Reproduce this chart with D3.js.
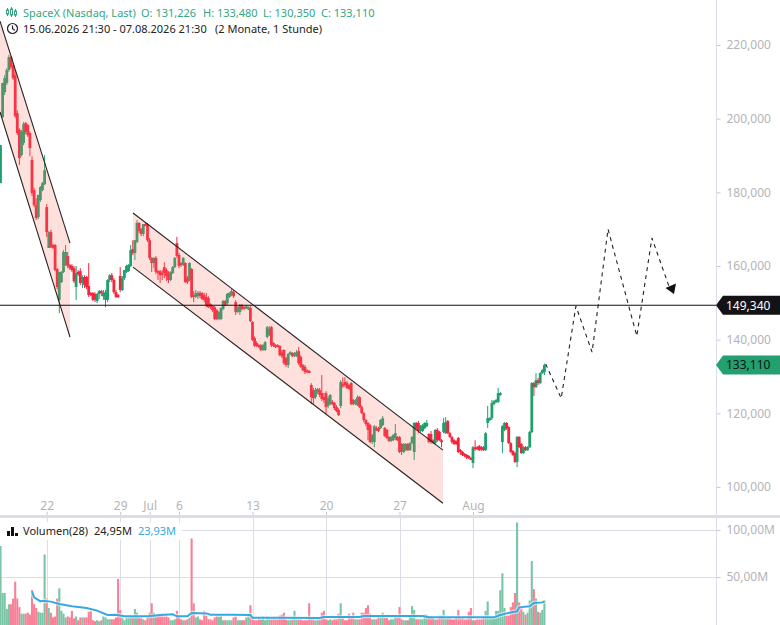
<!DOCTYPE html>
<html>
<head>
<meta charset="utf-8">
<script src="https://cdn.jsdelivr.net/npm/d3@7"></script>
<style>
html, body { margin: 0; padding: 0; background: #fff; overflow: hidden; }
text { font-family: "Noto Sans", sans-serif; }
</style>
</head>
<body>
<div id="chart"></div>
<script>
// hourly bars, prices in thousands
const opens = [
182.5,200.4,207.2,209.7,213.2,216.7,214.5,211.8,201.5,196.9,190.1,193.4,198.8,198.3,196.1,188.8,180.6,176.5,173.3,177.9,
180.6,182.2,176.0,164.9,169.2,165.7,165.7,159.2,150.8,155.6,158.4,160.3,162.7,160.3,160.0,159.4,154.3,158.4,158.6,155.4,
157.0,157.0,154.6,152.7,152.7,152.4,150.5,152.4,153.2,151.8,150.8,150.8,156.2,157.5,156.2,152.9,152.1,157.3,153.5,156.7,
158.4,158.6,160.0,164.6,163.5,166.5,171.7,170.0,168.7,171.4,171.4,167.0,162.2,160.8,162.2,158.6,158.6,158.1,159.7,158.9,
158.1,156.2,158.1,159.7,166.2,163.0,160.8,160.3,160.8,156.7,156.2,159.2,152.1,151.6,151.8,152.7,152.7,152.1,151.6,151.3,
149.7,149.1,148.8,148.0,145.6,145.6,148.3,150.5,149.9,151.6,152.1,152.9,150.2,147.5,147.5,149.4,148.8,148.6,148.3,148.6,
144.8,140.4,139.1,138.5,138.5,137.2,137.2,140.7,141.2,143.4,139.1,138.5,138.5,138.3,136.6,137.2,135.0,133.1,136.1,136.4,
135.5,135.5,136.9,135.3,133.1,132.6,131.7,131.5,127.7,126.3,124.4,125.8,126.3,125.5,124.4,125.5,122.0,122.5,123.1,122.8,
121.7,120.9,122.0,127.9,128.5,128.2,127.7,128.2,123.6,122.5,122.2,124.4,121.7,120.1,118.2,117.4,116.8,112.2,112.2,116.0,
116.0,116.0,116.8,116.0,115.5,113.6,112.5,112.7,113.3,113.6,113.6,111.7,109.5,110.0,111.7,110.0,111.9,109.5,117.4,117.4,
115.2,115.2,116.0,116.5,114.4,114.4,112.7,111.9,115.5,115.0,112.7,114.9,114.6,117.9,114.6,113.6,112.7,112.5,113.3,110.0,
109.5,109.0,108.7,108.4,107.9,106.5,110.8,110.8,111.1,110.8,110.8,110.0,117.4,118.2,118.7,122.5,123.1,123.1,125.0,112.2,
115.5,117.4,116.3,111.9,109.8,109.2,106.8,113.6,111.7,109.2,110.8,110.0,110.8,114.9,128.2,127.1,129.0,128.2,130.9,131.2];
const closes = [
192.8,209.7,211.0,213.2,216.7,214.0,211.0,200.7,196.1,189.3,196.4,198.5,196.4,195.5,192.0,179.8,176.5,173.0,179.3,181.4,
182.5,186.0,169.2,169.2,165.1,164.9,158.9,154.3,158.4,158.4,163.8,163.8,160.0,159.4,158.9,155.9,158.1,157.8,155.4,157.0,
154.8,154.3,152.1,152.1,150.8,150.8,152.4,153.2,152.7,152.7,152.9,156.2,157.5,156.2,152.9,151.6,151.6,153.5,156.7,158.9,
160.0,160.3,164.3,163.5,167.0,171.7,169.5,168.7,171.4,171.1,167.0,162.2,160.8,162.2,158.4,158.1,157.5,157.5,158.1,157.3,
156.2,158.4,159.7,162.2,162.7,160.0,160.3,162.2,155.6,155.6,160.8,151.6,151.6,152.7,152.7,151.8,151.0,150.8,149.4,148.8,
148.8,148.0,145.6,145.6,147.5,148.6,150.5,149.4,152.4,152.7,153.2,151.8,147.5,148.8,149.4,148.3,148.6,149.1,148.8,145.0,
139.9,138.3,138.3,138.0,137.2,138.5,139.3,143.4,142.9,138.5,138.3,138.0,138.3,135.8,135.5,133.6,133.1,136.1,136.6,135.5,
136.4,136.6,133.6,132.6,131.7,131.2,131.2,131.2,124.4,124.1,126.3,126.6,125.0,123.9,123.6,121.7,124.1,125.0,122.5,121.4,
120.6,119.5,128.5,127.4,127.7,126.9,126.6,122.5,122.5,123.6,124.4,121.7,120.1,118.2,117.1,115.5,112.2,114.1,116.5,115.5,
115.2,118.2,118.7,113.8,113.3,112.5,113.6,114.1,114.6,112.7,109.5,109.7,111.7,111.7,110.0,111.9,113.6,117.4,116.0,115.2,
116.5,116.8,117.4,117.4,112.2,112.2,111.9,115.5,112.7,112.7,112.5,117.4,117.6,114.6,113.6,112.2,111.7,111.7,109.5,109.5,
108.7,108.4,107.9,107.9,107.6,110.8,110.6,110.3,110.0,110.3,110.0,114.6,118.7,118.7,122.8,123.3,123.6,125.5,125.5,116.5,
117.4,116.0,111.9,109.5,108.7,106.8,113.6,110.8,109.2,110.8,110.0,110.8,114.9,128.2,127.1,129.0,128.2,130.9,131.7,133.1];
const highs = [
192.8,209.7,211.8,213.7,217.3,217.0,215.1,213.2,202.3,197.4,196.9,199.1,199.1,198.5,196.6,189.8,181.2,178.4,179.3,181.7,
182.8,190.1,176.8,169.5,169.8,166.0,166.0,159.4,158.4,158.6,164.3,165.7,163.8,160.5,160.5,160.0,160.0,158.9,159.4,157.5,
157.5,157.3,160.8,152.9,152.9,152.9,152.7,153.5,153.5,153.5,153.5,156.4,157.8,158.1,156.7,153.5,152.4,159.7,157.3,158.9,
160.3,160.5,165.7,167.0,167.0,172.5,171.9,170.3,171.4,171.7,171.7,167.6,162.4,162.4,162.7,158.9,158.9,158.9,161.0,159.4,
158.6,158.6,160.0,162.4,167.9,163.5,161.0,162.4,161.0,157.3,161.0,159.4,153.2,153.5,153.2,153.2,152.9,152.7,152.7,151.8,
149.9,149.4,149.1,148.3,147.8,148.8,150.8,150.8,152.7,152.9,153.7,153.5,150.8,149.1,149.7,149.7,149.1,149.4,149.1,149.1,
145.0,140.9,139.6,138.8,138.8,138.8,139.6,143.7,143.7,143.7,139.3,138.8,138.8,138.5,137.2,137.4,135.3,136.4,136.9,136.6,
136.6,137.2,138.0,135.8,133.4,133.1,132.0,131.7,128.2,126.9,126.9,126.9,126.9,130.4,125.5,126.0,124.7,125.2,123.6,123.1,
122.2,121.4,129.0,129.8,129.8,128.8,127.9,128.5,123.9,123.9,124.9,124.7,122.2,120.3,118.4,117.6,117.1,114.4,116.8,116.5,
116.3,118.4,119.3,116.3,115.7,113.8,113.8,114.4,117.1,113.8,113.8,111.9,111.9,111.9,111.9,112.2,113.8,117.6,117.6,117.9,
116.8,117.1,117.6,118.2,114.6,115.2,113.0,115.7,116.0,115.2,113.0,118.7,119.0,118.2,114.9,113.8,113.0,112.7,113.6,110.3,
109.8,109.2,109.0,108.7,108.1,111.1,112.7,111.1,111.4,111.1,111.1,114.9,122.0,119.0,123.6,123.6,123.9,126.9,125.8,116.8,
117.6,117.6,116.5,112.2,110.0,109.5,113.8,113.8,111.9,111.1,111.1,111.1,115.2,128.5,128.5,130.9,129.6,131.2,132.0,133.5];
const lows = [
182.5,200.2,206.4,209.1,212.7,213.5,210.5,200.2,195.5,187.4,189.8,192.8,195.8,195.0,189.8,179.0,176.0,172.5,172.7,177.4,
180.3,182.0,167.9,164.9,164.9,164.6,158.6,153.7,147.2,155.4,158.1,160.0,159.4,158.9,158.4,155.4,150.8,157.3,154.8,154.0,
154.0,153.7,151.6,151.8,150.5,150.2,149.9,151.0,151.8,150.8,148.8,150.2,155.6,155.6,152.4,151.3,151.3,152.9,153.2,156.2,
158.1,158.4,159.7,163.0,161.6,166.2,168.9,168.1,168.1,170.8,166.5,161.6,158.4,159.4,157.8,156.2,155.4,156.2,156.7,155.9,
155.4,155.9,157.8,159.4,162.2,159.4,159.7,160.0,155.4,155.1,155.9,151.3,150.2,151.3,151.0,151.3,150.8,150.2,148.8,148.6,
148.3,147.5,145.3,145.3,145.3,145.3,148.0,149.1,149.4,151.3,151.8,151.3,146.7,147.2,146.7,148.0,148.3,148.3,148.0,144.8,
139.6,138.0,138.0,137.7,136.9,136.9,136.9,140.4,141.0,138.0,138.0,137.7,138.0,135.5,135.0,133.1,132.6,132.3,135.8,135.3,
135.3,135.3,133.1,132.3,131.5,130.7,130.9,130.9,122.5,122.5,123.9,125.2,124.4,123.3,122.8,119.8,121.4,122.2,122.2,120.9,
120.3,119.3,121.4,126.9,127.1,126.6,126.3,122.2,122.2,122.2,122.0,121.4,119.8,117.6,116.5,112.7,111.9,111.7,110.8,115.2,
114.9,115.7,116.5,113.6,113.0,112.2,112.2,112.5,112.7,112.5,109.2,108.7,109.2,109.8,109.8,109.8,111.7,107.3,115.7,114.6,
114.9,114.9,115.7,116.3,111.9,111.7,111.7,111.4,112.2,112.5,110.8,114.6,114.4,114.4,113.3,111.7,111.4,111.4,109.2,108.7,
108.4,108.1,107.6,107.6,107.3,105.1,109.8,110.0,109.8,109.8,109.8,109.8,116.0,117.9,118.2,122.2,122.8,122.8,124.7,109.2,
115.2,115.5,111.7,109.2,108.4,106.5,105.4,110.6,109.0,109.0,109.8,109.8,110.6,114.6,124.7,126.9,127.7,127.9,130.7,130.4];
// volume per bar, millions
const volumes = [
83,33,33,16,21,21,27,45,27,18,11,11,11,12,10,36,21,17,13,12,
12,74,27,17,12,7,8,27,38,14,11,7,8,7,14,6,8,4,7,7,
7,7,13,14,4,3,4,3,4,8,7,5,5,5,5,7,48,15,7,4,
7,7,9,8,16,12,7,7,5,4,7,12,22,12,8,9,9,11,8,10,
7,4,4,5,14,9,5,4,4,5,7,91,22,7,8,5,4,14,9,5,
5,4,7,9,8,9,4,4,4,4,4,7,8,4,4,4,4,7,9,20,
7,4,4,6,5,8,4,8,6,5,7,5,6,9,10,12,5,4,4,5,
14,5,5,5,4,4,4,22,7,7,4,5,5,12,14,5,4,5,4,5,
5,11,22,8,4,4,11,8,12,5,5,5,12,12,17,20,11,5,5,5,
8,8,12,7,7,4,5,5,8,8,18,5,4,4,4,8,19,15,5,5,
5,5,10,10,8,8,7,5,5,9,9,15,6,6,6,5,5,7,15,7,
7,5,5,13,17,4,4,5,5,5,7,14,24,7,7,7,14,14,36,54,
17,9,9,18,23,33,108,23,18,13,10,12,25,67,37,27,13,12,15,25];
// 28 bar volume average, read at its visible bends
const avgBars = [15,16,19,20,24,28,34,41,46,51,55,59,70,76,82,84,89,91,98,100,111,119,120,133,152,154,171,173,201,204,235,238,241,246,247,252,254,258,259];
const avgVolume = [34.8,28.4,24.1,24.8,23.8,21.3,18.8,17,14.2,9.6,9.9,8.2,8.2,9.6,10.3,8.2,8.2,11.7,11.3,9.9,9.9,9.6,6.7,6.7,6.4,7.4,7.4,8.5,8.5,7.1,7.1,9.6,11.3,13.5,17.7,18.8,22.3,23,23.9];

const tickBars = [22,57,71,85,120,155,190,225];
const tickLabels = ["22","29","Jul","6","13","20","27","Aug"];
const priceTicks = [100,120,140,160,180,200,220];
const volumeTicks = [50,100];

// drawn channels and forecast path
const channelOneBars = [-0.24,33.1];
const channelOneUpper = [226.5,166.2];
const channelOneLower = [201.8,140.7];
const channelTwoBars = [63.1,210.7];
const channelTwoUpper = [174.4,110.0];
const channelTwoLower = [159.7,95.6];
const pathBars = [259.6,267,274,281.7,289.3,303,310.2,318.5];
const pathPrices = [133.4,124.1,149.1,136.6,170,141,167.6,154.2];
const arrowBars = [320.7];
const arrowPrices = [152.4];
const levelPrice = 149.34;
const lastPrice = 133.11;

const W = 780, H = 625;
const AXIS_X = 716;
const UP = "#1f9e6e", DOWN = "#f5233c";
const UP_VOL = "#7cc4a6", DOWN_VOL = "#f98097";
const GRID = "#dcdde6", LABEL = "#b4b4b8";

const x = d3.scaleLinear().domain([0,1]).range([0.5,2.6]);
const y = d3.scaleLinear().domain([100,220]).range([487,45]);
const yVol = d3.scaleLinear().domain([0,100]).range([624,530]);

const svg = d3.select("#chart").append("svg")
	.attr("width", W)
	.attr("height", H)
	.style("display", "block");

svg.append("defs").append("clipPath").attr("id", "plot")
	.append("rect").attr("width", AXIS_X).attr("height", 516);

// volume pane grid
const grid = svg.append("g");
grid.selectAll("line.v").data(tickBars).enter().append("line")
	.attr("x1", d => Math.round(x(d)) + 0.5)
	.attr("x2", d => Math.round(x(d)) + 0.5)
	.attr("y1", 518).attr("y2", H)
	.attr("stroke", GRID).attr("stroke-width", 1);
grid.selectAll("line.h").data(volumeTicks).enter().append("line")
	.attr("x1", 0).attr("x2", AXIS_X)
	.attr("y1", d => yVol(d) + 0.5)
	.attr("y2", d => yVol(d) + 0.5)
	.attr("stroke", GRID).attr("stroke-width", 1);

// volume
svg.append("g").selectAll("rect").data(volumes).enter().append("rect")
	.attr("x", (d, i) => x(i) - 1.05)
	.attr("width", 2.1)
	.attr("y", d => yVol(d))
	.attr("height", d => H - yVol(d))
	.attr("fill", (d, i) => closes[i] >= opens[i] ? UP_VOL : DOWN_VOL);

const avgLine = d3.line().x(d => x(d[0])).y(d => yVol(d[1]));
const avgPts = avgBars.map((b, i) => [b, avgVolume[i]]);
svg.append("path").attr("d", avgLine(avgPts)).attr("fill", "none")
	.attr("stroke", "#fff").attr("stroke-opacity", 0.55).attr("stroke-width", 4.5);
svg.append("path").attr("d", avgLine(avgPts)).attr("fill", "none")
	.attr("stroke", "#35a9e2").attr("stroke-width", 2);

// candles
const plot = svg.append("g").attr("clip-path", "url(#plot)");
const candles = plot.append("g").selectAll("g").data(opens).enter().append("g")
	.attr("fill", (d, i) => closes[i] >= d ? UP : DOWN)
	.attr("stroke", (d, i) => closes[i] >= d ? UP : DOWN);
candles.append("line")
	.attr("x1", (d, i) => x(i)).attr("x2", (d, i) => x(i))
	.attr("y1", (d, i) => y(highs[i])).attr("y2", (d, i) => y(lows[i]))
	.attr("stroke-width", 1);
candles.append("rect")
	.attr("x", (d, i) => x(i) - 1.4)
	.attr("width", 2.8)
	.attr("y", (d, i) => y(Math.max(d, closes[i])))
	.attr("height", (d, i) => Math.max(2, Math.abs(y(d) - y(closes[i]))))
	.attr("stroke", "none");

// channels sit on top of the candles
const drawChannel = (bars, upper, lower) => {
	const area = d3.area().x(d => x(d[0])).y0(d => y(d[1])).y1(d => y(d[2]));
	const pts = bars.map((b, i) => [b, upper[i], lower[i]]);
	plot.append("path").attr("d", area(pts))
		.attr("fill", "rgb(250,120,105)").attr("fill-opacity", 0.23);
	[upper, lower].forEach(side => {
		plot.append("line")
			.attr("x1", x(bars[0])).attr("y1", y(side[0]))
			.attr("x2", x(bars[1])).attr("y2", y(side[1]))
			.attr("stroke", "#2a2222").attr("stroke-width", 1.1);
	});
};
drawChannel(channelOneBars, channelOneUpper, channelOneLower);
drawChannel(channelTwoBars, channelTwoUpper, channelTwoLower);

// forecast path and arrow head
const fLine = d3.line().x(d => x(d[0])).y(d => y(d[1]));
plot.append("path")
	.attr("d", fLine(pathBars.map((b, i) => [b, pathPrices[i]])))
	.attr("fill", "none").attr("stroke", "#222")
	.attr("stroke-width", 1.1).attr("stroke-dasharray", "4,4");
const tipX = x(arrowBars[0]), tipY = y(arrowPrices[0]);
plot.append("path")
	.attr("d", `M${tipX},${tipY}l-8.5,-6l10.5,-4.5Z`)
	.attr("fill", "#111");

// level line
svg.append("line")
	.attr("x1", 0).attr("x2", AXIS_X)
	.attr("y1", y(levelPrice)).attr("y2", y(levelPrice))
	.attr("stroke", "#111").attr("stroke-width", 1.2);

// separator between panes and axis line
svg.append("rect").attr("x", 0).attr("y", 515).attr("width", W).attr("height", 3).attr("fill", GRID);
svg.append("line").attr("x1", AXIS_X + 0.5).attr("x2", AXIS_X + 0.5).attr("y1", 0).attr("y2", H)
	.attr("stroke", GRID).attr("stroke-width", 1);

const styleAxis = g => {
	g.select(".domain").remove();
	g.selectAll("line").attr("stroke", "#c8c8d0");
	g.selectAll("text").attr("fill", LABEL).style("font-size", "12px").style("font-family", '"Noto Sans"');
};

svg.append("g")
	.attr("transform", `translate(${AXIS_X + 0.5},0)`)
	.call(d3.axisRight(y).tickValues(priceTicks).tickSize(4).tickPadding(6).tickFormat(d => d + ",000"))
	.call(styleAxis);
svg.append("g")
	.attr("transform", `translate(${AXIS_X + 0.5},0)`)
	.call(d3.axisRight(yVol).tickValues(volumeTicks).tickSize(4).tickPadding(6).tickFormat(d => d + ",00M"))
	.call(styleAxis);
svg.append("g")
	.attr("transform", "translate(0,512)")
	.call(d3.axisBottom(x).tickValues(tickBars).tickSize(3).tickPadding(-13.5)
		.tickFormat((d, i) => tickLabels[i]))
	.call(styleAxis);

// price tags
const tag = (price, fill, color, label) => {
	const c = y(price);
	svg.append("path")
		.attr("d", `M${AXIS_X},${c}L${AXIS_X + 7},${c - 9.5}H${W}V${c + 9.5}H${AXIS_X + 7}Z`)
		.attr("fill", fill);
	svg.append("text").attr("x", 726).attr("y", c + 4.3)
		.attr("fill", color).style("font-size", "12px").text(label);
};
tag(levelPrice, "#131316", "#fff", "149,340");
tag(lastPrice, "#22a06f", "#111", "133,110");

// legends
const text = (px, py, str, color) => svg.append("text")
	.attr("x", px).attr("y", py).attr("fill", color)
	.style("font-size", "11px").text(str);
const LEG_GREEN = "#35a67f";
text(23, 17, "SpaceX (Nasdaq, Last)", LEG_GREEN);
text(141, 17, "O: 131,226", LEG_GREEN);
text(203, 17, "H: 133,480", LEG_GREEN);
text(263, 17, "L: 130,350", LEG_GREEN);
text(321, 17, "C: 133,110", LEG_GREEN);
text(23, 33, "15.06.2026 21:30 - 07.08.2026 21:30", "#222");
text(215, 33, "(2 Monate, 1 Stunde)", "#222");

// small candle icon
const icon = svg.append("g").attr("stroke", LEG_GREEN).attr("fill", "none");
[[7.5,8,16,10,14],[11.5,7,17,9,15],[15.5,9,17,11,15]].forEach(r => {
	icon.append("line").attr("x1", r[0]).attr("x2", r[0]).attr("y1", r[1]).attr("y2", r[2]);
	icon.append("rect").attr("x", r[0] - 1).attr("y", r[3]).attr("width", 2).attr("height", r[4] - r[3]).attr("fill", "#fff");
});
// clock icon
const clock = svg.append("g").attr("fill", "none").attr("stroke", "#222").attr("stroke-width", 1.2);
clock.append("circle").attr("cx", 12.5).attr("cy", 28.5).attr("r", 5);
clock.append("path").attr("d", "M12.5,25.5V28.7L14.8,30.2");

// volume legend with its white backing
svg.append("rect").attr("x", 0).attr("y", 522).attr("width", 182).attr("height", 18).attr("fill", "#fff").attr("fill-opacity", 0.9);
const volIcon = svg.append("g").attr("fill", "#111");
[[7,531,4],[11,527,8],[15,533,2]].forEach(r => {
	volIcon.append("rect").attr("x", r[0]).attr("y", r[1]).attr("width", 3).attr("height", r[2] + 1);
});
text(23, 535, "Volumen(28)", "#222");
text(94, 535, "24,95M", "#222");
text(138, 535, "23,93M", "#35a9e2");
</script>
</body>
</html>
